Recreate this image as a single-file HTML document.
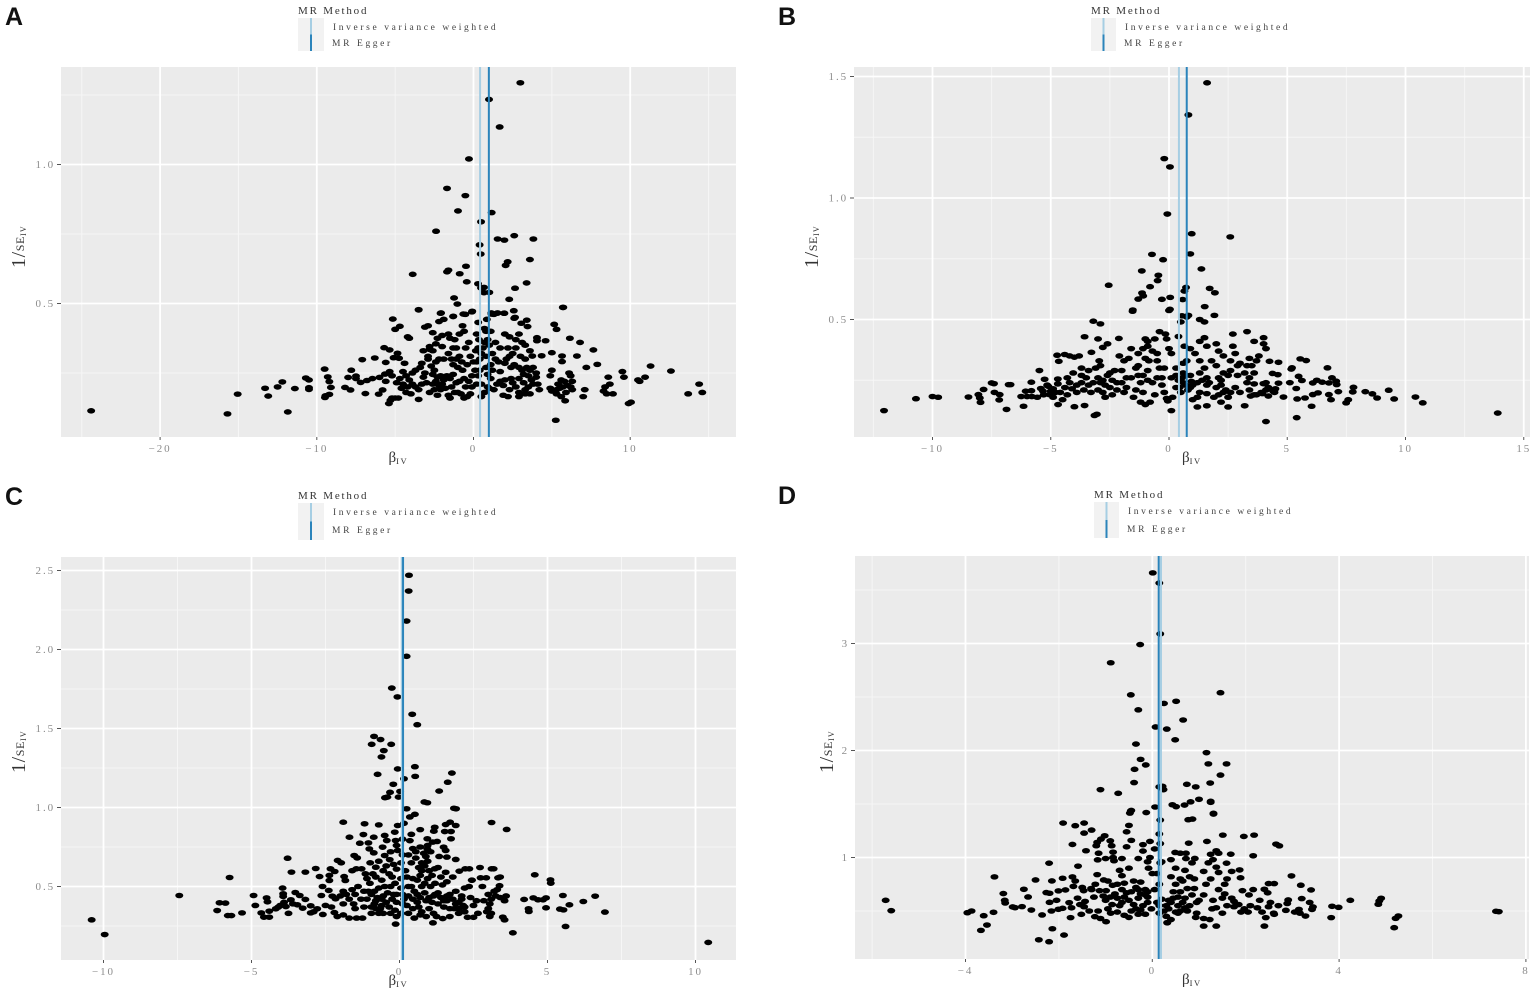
<!DOCTYPE html>
<html lang="en">
<head>
<meta charset="utf-8">
<title>MR funnel plots</title>
<style>
html,body{margin:0;padding:0;background:#fff;}
#figure{display:block;width:1535px;height:994px;}
text{font-family:"Liberation Serif","Noto Serif CJK SC",serif;}
.panel-letter{font-family:"Liberation Sans",sans-serif;font-weight:700;font-size:25px;fill:#111;}
.tick-label{font-size:11px;letter-spacing:1.9px;fill:#8c8c8c;}
.legend-title{font-size:11px;letter-spacing:1.8px;fill:#333;}
.legend-label{font-size:9.5px;letter-spacing:2.62px;fill:#444;}
.axis-title{fill:#333;}
</style>
</head>
<body>
<svg id="figure" xmlns="http://www.w3.org/2000/svg" width="1535" height="994" viewBox="0 0 1535 994"></svg>
<script>
// Estimated [beta_IV, 1/SE_IV] for each SNP
const pointsA = [
[2.99,1.294],[.99,1.234],[1.67,1.135],[-.29,1.02],[-1.69,.914],[-.52,.888],[-.99,.833],[1.16,.827],[.48,.794],[-2.39,.76],[2.6,.744],[1.54,.732],[1.97,.728],[3.82,.732],[.39,.711],[.46,.678],[3.6,.658],[2.18,.65],[2.05,.637],[-.48,.634],[-1.6,.62],[-1.69,.614],[-.88,.607],[-3.88,.605],[-.43,.578],[3.39,.574],[.29,.571],[.67,.558],[.48,.556],[2.65,.555],[.67,.539],[1.01,.54],[-1.24,.52],[2.28,.515],[-1.03,.498],[5.73,.486],[-3.5,.478],[2.57,.474],[-.08,.472],[-2.07,.466],[1.14,.466],[1.54,.466],[1.97,.465],[-.52,.461],[1.3,.461],[-1.29,.454],[2.65,.45],
[-24.4,.114],[-15.7,.103],[-15.05,.174],[-11.85,.11],[-13.3,.195],[-13.1,.167],[-12.5,.2],[-12.2,.218],[-11.4,.194],[-10.7,.232],[-10.5,.225],[-10.5,.197],[-10.5,.191],[-9.5,.264],[-9.3,.236],[-9.2,.219],[-9.1,.198],[-9.2,.173],[-9.45,.168],[-9.48,.162],[-8.2,.198],[-8,.234],[-7.8,.26],[-7.85,.189],[-7.5,.239],[-7.5,.23],[-7.2,.216],[-6.9,.176],[-6.8,.223],[-6.45,.23],[-7.1,.298],[-6.3,.304],[-6.05,.174],[-6,.234],[-5.8,.189],[-5.7,.341],[-5.35,.333],[-5.6,.288],[-5.15,.444],[-5.1,.305],[-4.7,.418],[-5,.407],[-4.75,.303],[-4.85,.321],[-4.4,.285],[-5.65,.246],[-5.35,.255],[-5.6,.22],[-5.2,.24],[-4.9,.215],[-5.3,.152],[-5.2,.16],[-5,.16],[-4.8,.16],[-5.4,.14],[-3.5,.155],[-4.5,.255],[-4.3,.24],[-4.1,.225],[-3.9,.25],[-3.7,.26],[-3.4,.27],[-3.2,.235],[-3,.215],[-4.6,.195],[-4.3,.18],[-4,.175],[-3.7,.2],[-3.5,.19],[-4.2,.38],[-4.1,.375],[-3.1,.415],[-2.8,.345],[-2.8,.335],[-2.9,.31],[-2.9,.3],[-3.3,.285],[-2.7,.275],[-2.4,.29],[-2.6,.245],[-2.4,.22],[-2.3,.235],[-2.2,.205],[-2.5,.19],[-2.8,.18],[-2.3,.17],[-2.1,.19],[-1.9,.225],[-1.7,.24],[-1.5,.23],[-1.3,.245],[-2,.21],[-1.6,.17],[-1.5,.16],[-1.2,.18],[-1,.18],[-.8,.175],[-.6,.16],[-.4,.165],[-.2,.175],[-3.5,.477],[-2.1,.465],[-2.2,.435],[-1.9,.443],[-1.3,.453],[-.1,.47],[-.65,.462],[-2.9,.42],[-2.6,.395],[-2.3,.375],[-2,.385],[-1.6,.39],[-1.5,.375],[-1.2,.37],[-.9,.39],[-.7,.42],[-.6,.4],[-2.4,.355],[-2,.345],[-1.6,.32],[-1.4,.3],[-1.1,.3],[-.9,.31],[-.75,.29],[-1.3,.28],[-1,.27],[-.7,.26],[-.3,.36],[.3,.432],[.85,.443],[1.15,.462],[1.5,.465],[1.95,.465],[2.6,.447],[3.05,.429],[3.4,.44],[3.45,.417],[5.7,.486],[5.15,.425],[5.3,.407],[6.15,.375],[6.8,.36],[7.65,.333],[6.6,.311],[7.9,.281],[7.2,.27],[5,.323],[5.65,.311],[5.65,.291],[4.35,.312],[3.75,.311],[4.6,.366],[4.05,.377],[4.05,.366],[.2,.39],[.35,.37],[.7,.41],[.8,.4],[1.1,.4],[.9,.37],[1,.35],[.3,.34],[.5,.32],[1.4,.36],[1.7,.34],[2,.39],[2.3,.38],[2.7,.37],[2.9,.39],[3.1,.36],[3.3,.35],[3.6,.33],[2.5,.32],[2.3,.31],[2.1,.3],[2,.285],[1.4,.3],[1.1,.28],[.8,.27],[.4,.26],[.3,.24],[.9,.245],[1.2,.26],[1.7,.255],[2.4,.27],[2.6,.28],[2.9,.27],[3.1,.26],[3.2,.245],[3.5,.24],[3.7,.225],[4,.25],[4,.235],[3.8,.21],[3.5,.2],[3.2,.215],[2.9,.23],[2.4,.23],[2,.225],[1.7,.22],[1.5,.21],[1.9,.205],[2.3,.19],[2.7,.2],[2.9,.18],[3.3,.175],[1.3,.19],[1,.195],[.9,.2],[.7,.18],[.5,.165],[1.9,.17],[2.2,.165],[2.9,.165],[3.6,.175],[4.9,.195],[5,.185],[5.3,.19],[5.4,.21],[5.6,.225],[5.8,.22],[6,.205],[5.7,.2],[5.9,.18],[6.2,.2],[6.3,.22],[6.1,.25],[6.2,.24],[5,.26],[4.9,.24],[5.6,.165],[5.85,.15],[5.25,.08],[7.1,.19],[7,.165],[8.4,.2],[8.7,.21],[8.5,.175],[8.9,.175],[8.3,.185],[9.5,.255],[9.6,.235],[9.9,.14],[10.05,.145],[10.5,.225],[10.6,.22],[10.95,.235],[11.3,.275],[12.6,.257],[13.7,.175],[14.4,.21],[14.6,.18],[8.6,.235],
[-4.7,.23],[-4.5,.21],[-4.2,.2],[-3.9,.21],[-3.3,.21],[-3.1,.25],[-2.6,.21],[-2.5,.26],[-2.1,.24],[-1.8,.195],[-1.4,.2],[-1.1,.215],[-.9,.22],[-.6,.23],[-.5,.2],[-.3,.22],[-.1,.24],[.1,.26],[.2,.29],[.4,.3],[.6,.34],[.7,.36],[.15,.33],[.2,.21],[.5,.21],[.8,.31],[1.2,.32],[1.6,.29],[2.2,.34],[2.7,.34],[3,.31],[3.3,.3],[3.4,.27],[3.6,.26],[3.8,.27],[4.1,.21],[3.3,.19],[2.5,.215],[1.1,.23],[-1.1,.34],[-1.3,.34],[-1.9,.3],[-2.2,.3],[-.5,.34],[-.2,.31],[-.4,.28],[0,.29],[-.1,.2],[4.2,.19],[6.3,.19],[5.5,.195],[5.3,.175],[-3.2,.33],[-2.6,.33]
];
const pointsB = [
[1.61,1.474],[.82,1.342],[-.2,1.162],[.04,1.128],[-.07,.934],[.96,.853],[2.59,.84],[-.72,.768],[.9,.77],[-.25,.746],[1.37,.708],[-1.15,.7],[-.45,.682],[-.48,.66],[-2.55,.641],[-.8,.635],[.72,.632],[.65,.617],[1.72,.628],[1.94,.61],[-1.14,.609],[-1.09,.597],[-1.3,.584],[-.3,.583],[.05,.591],[.58,.582],[1.51,.553],[-1.53,.539],[.04,.542],[1.92,.517],[.82,.517],[.55,.515],
[-1.54,.534],[0,.537],[.5,.49],[.75,.51],[1.3,.5],[1.5,.49],[-12.05,.125],[-10.7,.174],[-10,.183],[-9.76,.18],[-8.48,.181],[-8.06,.191],[-8,.177],[-7.97,.159],[-7.84,.212],[-7.5,.239],[-7.4,.236],[-7.38,.2],[-7.16,.191],[-7.18,.169],[-6.87,.13],[-6.78,.232],[-6.7,.232],[-6.25,.183],[-6.15,.143],[-6.06,.205],[-6,.183],[-5.82,.242],[-5.8,.183],[-5.82,.207],[-5.57,.18],[-5.48,.29],[-5.26,.254],[-5.42,.216],[-5.33,.205],[-5.05,.191],[-4.69,.15],[-4.73,.353],[-4.66,.328],[-4.41,.356],[-4.2,.35],[-4,.345],[-3.8,.35],[-4,.141],[-3.57,.146],[-3.57,.429],[-3.2,.493],[-2.9,.482],[-3,.42],[-3.28,.365],[-2.6,.4],[-2.8,.385],[-2.12,.422],[-3.15,.105],[-3.05,.11],[-5.1,.225],[-4.9,.215],[-4.7,.235],[-4.6,.2],[-4.4,.22],[-4.9,.18],[-4.5,.17],[-4.3,.19],[-4.1,.215],[-3.9,.23],[-4.3,.26],[-4.05,.28],[-3.7,.27],[-3.7,.24],[-3.4,.29],[-3.5,.26],[-3.4,.23],[-3.6,.21],[-3.3,.2],[-2.95,.33],[-2.9,.31],[-2.8,.25],[-3,.21],[-2.8,.2],[-2.6,.27],[-2.5,.28],[-2.3,.29],[-2.2,.24],[-2.2,.21],[-2.4,.19],[-2.7,.18],[-2,.29],[-1.9,.33],[-1.7,.34],[-1.9,.2],[-1.5,.18],[-1.6,.26],[-1.3,.27],[-1.2,.24],[-1.4,.21],[-1.1,.2],[-1.6,.38],[-1.3,.36],[-1.1,.38],[-1,.42],[-.9,.41],[-.9,.39],[-.6,.42],[-.4,.45],[-.15,.44],[-.1,.42],[-1,.34],[-.85,.33],[-.7,.37],[-.5,.33],[-.4,.3],[-.9,.29],[-1.2,.16],[-1,.15],[-.7,.24],[-.5,.26],[-.3,.23],[-.2,.2],[-.1,.175],[.15,.18],[.1,.125],[0,.38],[.1,.36],[.3,.3],[.4,.25],[.45,.22],[.6,.32],[.75,.33],[.4,.43],[.65,.39],[.9,.38],[1.1,.36],[1.3,.33],[1.3,.41],[1.5,.425],[1.6,.39],[2,.4],[2.1,.37],[2.7,.44],[2.7,.39],[2.8,.36],[3.3,.45],[3.6,.41],[4,.425],[4,.4],[4.1,.38],[3.8,.35],[3.7,.33],[3.4,.34],[3,.32],[2.6,.33],[2.3,.35],[1.8,.33],[2,.31],[2.3,.28],[2.6,.29],[2.9,.27],[3.2,.28],[3.4,.26],[3.6,.28],[3.3,.24],[3.6,.235],[4.1,.24],[2.1,.26],[2.2,.25],[2.5,.27],[1.6,.26],[1.3,.28],[.9,.27],[1.2,.24],[1.6,.23],[2,.22],[2.2,.23],[2.4,.21],[2.5,.18],[2.3,.2],[2.1,.19],[1.6,.195],[1.3,.2],[1.2,.18],[1,.17],[.8,.21],[.6,.24],[.9,.22],[2.2,.16],[2.5,.14],[3.2,.145],[1.2,.14],[1.6,.145],[3,.2],[3.4,.21],[3.6,.19],[3.9,.2],[4.2,.185],[4.1,.21],[4.4,.205],[4.5,.215],[13.9,.115],[10.73,.157],[10.42,.181],[9.52,.173],[9.29,.209],[8.8,.177],[8.6,.194],[8.3,.203],[7.8,.221],[7.77,.202],[7.58,.17],[7.49,.157],[7.16,.203],[7.09,.232],[7.07,.246],[6.89,.26],[6.7,.301],[6.76,.191],[6.85,.17],[6.76,.239],[6.48,.242],[6.25,.25],[6.08,.239],[6.3,.198],[6.03,.143],[6.08,.191],[5.75,.177],[5.42,.173],[5.4,.096],[4.1,.08],[5.8,.331],[5.55,.338],[5.2,.301],[5.17,.296],[5.48,.266],[5.62,.249],[5.38,.216],[5.11,.24],[4.84,.181],[4.63,.324],[4.25,.328],[4.38,.278],[4.6,.273],[4.63,.238],[3.99,.236],[4.2,.22],[4.46,.2],[3.95,.195],[3.7,.19],[3.45,.185],[-.05,.165],[.55,.26],[.7,.27],[.95,.245],[-.3,.26],[-1.8,.22],[-2.5,.22],[-2.9,.24],[-3.7,.3],[-3.1,.3],[-5.3,.19],[-5,.205],[-4.7,.255],[-5.15,.23],[-.6,.19],[-.8,.16],
[-4.8,.2],[-4.2,.24],[-3.9,.2],[-3.2,.24],[-3,.26],[-2.7,.23],[-2.4,.25],[-2,.24],[-1.8,.26],[-1.4,.3],[-1.1,.27],[-.9,.25],[-.2,.3],[.1,.26],[.3,.22],[.5,.2],[.3,.27],[.7,.23],[1,.23],[1.4,.25],[1.7,.24],[1.9,.18],[2.6,.2],[2.8,.22],[2.9,.31],[3.3,.31],[3.5,.31],[.6,.28],[1.5,.3],[-.5,.36],[-1.3,.31],[-2.1,.35]
];
const pointsC = [
[.32,2.47],[.31,2.37],[.24,2.18],[.24,1.957],[-.26,1.756],[-.07,1.7],[.43,1.59],[.6,1.524],[-.86,1.45],[-.64,1.43],[-.94,1.4],[-.28,1.4],[-.53,1.36],[-.61,1.32],[.52,1.258],[-.06,1.244],[-.74,1.21],[1.77,1.218],[.53,1.197],[.15,1.182],[1.63,1.16],[-.21,1.147],[1.34,1.104],[-.32,1.096],[.02,1.102],[-.41,1.066],[-.49,1.062],[-.03,1.066],[.84,1.035],[.94,1.03],[.24,.992],[1.84,.995],[.52,.957],
[-10.4,.289],[-9.96,.196],[-7.44,.443],[-5.74,.557],[-6.08,.397],[-5.88,.395],[-6.16,.348],[-5.8,.316],[-5.68,.316],[-5.32,.333],[-4.93,.443],[-4.87,.38],[-4.49,.428],[-4.46,.403],[-4.67,.333],[-4.58,.306],[-4.4,.306],[-4.4,.344],[-4.18,.359],[-4.1,.369],[-3.95,.49],[-3.93,.454],[-3.93,.437],[-4.03,.38],[-3.84,.373],[-3.67,.416],[-3.52,.462],[-3.37,.443],[-3.18,.418],[-3.45,.384],[-3.27,.363],[-3,.378],[-3,.333],[-2.78,.359],[-2.59,.323],[-2.64,.443],[-2.6,.5],[-2.7,.563],[-2.83,.614],[-3.18,.591],[-3.65,.591],[-3.78,.679],[-2.33,.612],[-2.19,.595],[-2.37,.57],[-2.37,.538],[-2.39,.475],[-2.27,.439],[-2.16,.422],[-2.09,.665],[-1.97,.65],[-1.87,.563],[-1.83,.538],[-1.9,.907],[-1.18,.897],[-1.69,.812],[-1.22,.829],[-1.34,.774],[-1.05,.776],[-.87,.812],[-1.02,.738],[-.87,.713],[-1.53,.696],[-1.43,.681],[-1.46,.612],[-1.28,.612],[-.99,.65],[-.8,.622],[-.5,.823],[-.43,.791],[-.06,.886],[-.16,.844],[-.13,.791],[-.57,.749],[-.06,.728],[-.5,.696],[-.33,.67],[-.2,.64],[-.55,.6],[-.35,.58],[-.1,.61],[-.25,.56],[-.8,.56],[-1.1,.55],[-1.4,.5],[-1.2,.47],[-1,.52],[-.7,.49],[-.5,.5],[-.3,.5],[-.15,.52],[-.4,.46],[-1.9,.47],[-2,.44],[-1.7,.42],[-1.5,.45],[-1.3,.42],[-2.3,.37],[-2.2,.335],[-2.1,.31],[-1.9,.32],[-1.45,.3],[-1.25,.3],[-1.2,.37],[-.95,.37],[-.8,.41],[-.8,.36],[-.7,.33],[-.6,.38],[-.55,.33],[-.3,.33],[-.15,.35],[-.1,.31],[.05,.33],[.15,.42],[.1,.45],[.1,.39],[.3,.44],[.4,.5],[.5,.47],[.6,.54],[.7,.57],[.75,.5],[.85,.46],[1,.43],[.9,.41],[.65,.37],[.45,.36],[.3,.33],[.7,.32],[.75,.34],[1,.36],[1.1,.4],[1.3,.39],[1.4,.43],[1.6,.44],[1.8,.42],[1.9,.39],[2.1,.42],[2,.36],[1.7,.36],[1.5,.37],[1.3,.46],[1.45,.51],[1.6,.53],[1.8,.56],[1.9,.47],[2.1,.44],[2.2,.49],[2.35,.5],[2.45,.54],[2.4,.43],[2.5,.38],[2.65,.33],[2.5,.305],[2.3,.305],[3.05,.31],[3.1,.33],[3,.36],[3.05,.39],[3,.45],[3.2,.47],[3.4,.43],[3.55,.41],[3.6,.44],[3.3,.48],[10.43,.146],[6.94,.338],[6.61,.439],[6.21,.405],[5.74,.384],[5.52,.443],[5.61,.247],[5.54,.352],[5.42,.357],[5.1,.542],[5.11,.521],[4.57,.574],[4.95,.428],[4.85,.416],[4.68,.416],[4.52,.428],[4.21,.418],[4.36,.359],[4.37,.342],[4.95,.365],[3.83,.207],[3.55,.289],[3.49,.306],[3.62,.861],[3.11,.905],[1.91,.992],[1.71,.907],[1.56,.892],[1.9,.886],[1.19,.875],[1.16,.85],[1.53,.848],[1.74,.848],[1.74,.802],[.94,.802],[1.27,.785],[1.12,.781],[1.49,.749],[1.56,.728],[.94,.738],[.82,.71],[.89,.69],[1.34,.69],[1.6,.686],[1.9,.671],[1.13,.27],[1.46,.297],[-.13,.262],[3.33,.555],[3.4,.56],[3.11,.612],[3.18,.612],[2.72,.62],[2.22,.612],[2.36,.612],[2.02,.597],[1.56,.59],[1.19,.612],[2.74,.555],[2.93,.555],[2.44,.54],[2.8,.5],[3.38,.505],[.7,.75],[.55,.72],[.35,.79],[.7,.86],[.4,.83],[.15,.9],[.35,.94],[.55,.68],[.4,.65],[.65,.62],[.85,.63],[1,.6],[1.1,.57],[.95,.66],[1.4,.56],[1.2,.52],[.2,.6],[.25,.56],[.1,.7],[-.1,.76],[-.3,.72],[-.7,.89],[.45,.74],[-1.5,.36],[-1.7,.3],[-1.1,.42],[-1.6,.6],[-2.9,.34],[-2.5,.38],[-3.6,.39],[-3.9,.4],[-3.75,.33],[-.95,.45],[-1.15,.58],[.6,.4],[.5,.3],[.9,.31],[1.15,.33],[1.25,.31],[1.7,.31],[2,.33],[2.2,.37],[-.45,.4],[-.55,.44],[-.75,.43],[-.35,.37],[.05,.49],[.05,.55],[.05,.65],[.1,.8],
[-1.9,.39],[-1.8,.45],[-1.6,.48],[-1.55,.39],[-1.05,.47],[-.85,.47],[-.6,.42],[-.95,.33],[-.85,.39],[-.65,.36],[-.2,.45],[-.25,.42],[-.1,.4],[.25,.38],[.45,.42],[.6,.45],[.7,.43],[.85,.52],[.95,.55],[1.05,.5],[1.2,.45],[1.15,.44],[1.5,.41],[1.6,.41],[1.7,.45],[1.85,.36],[2,.4],[2.15,.38],[2.2,.34],[2.6,.41],[2.85,.41],[2.95,.34],[3.1,.42],[3.25,.44],[.3,.7],[.45,.55],[.3,.5],[.75,.65],[.75,.6],[-.9,.58],[-.7,.66],[-.45,.63],[-.6,.54],[-.1,.45],[.95,.76],[1.05,.72],[1.3,.62]
];
const pointsD = [
[.01,3.66],[.15,3.565],[.17,3.09],[-.26,2.99],[-.89,2.82],[-.46,2.52],[1.46,2.54],[.25,2.44],[.51,2.46],[-.3,2.38],[.66,2.285],[.07,2.22],[.31,2.2],[.49,2.1],[-.35,2.06],[1.16,1.98],[-.25,1.917],[-.14,1.865],[1.2,1.875],[1.59,1.875],[-.38,1.824],[1.46,1.77],[-.39,1.7],[1.24,1.696],[.74,1.684],[.93,1.66],[.22,1.665],[.15,1.66],[.24,1.634],[-1.11,1.634],[-.73,1.6],[1,1.544],[1.25,1.525],[.82,1.52],[.69,1.49],[.43,1.493],[.51,1.475],[.06,1.472],[-.46,1.435],[-.48,1.415],[-.13,1.42],[1.31,1.413],
[-5.71,.6],[-5.59,.503],[-3.96,.484],[-3.87,.5],[-3.61,.456],[-3.54,.369],[-3.67,.319],[-3.38,.819],[-3.4,.488],[-3.19,.663],[-3.16,.6],[-3.15,.575],[-2.99,.538],[-2.94,.531],[-2.79,.541],[-2.75,.703],[-2.66,.631],[-2.59,.509],[-2.36,.463],[-2.43,.231],[-2.21,.213],[-1.89,.275],[-2.14,.334],[-2.21,.947],[-2.15,.781],[-2.27,.672],[-2.2,.666],[-2.2,.581],[-2.16,.5],[-2.01,.688],[-2.01,.516],[-1.92,.525],[-1.91,1.322],[-1.65,1.297],[-1.46,1.322],[-1.3,1.256],[-1.46,1.228],[-1.71,1.122],[-1.59,.919],[-1.92,.806],[-1.71,.819],[-1.65,.78],[-1.69,.73],[-1.86,.697],[-1.78,.578],[-1.73,.53],[-1.75,.438],[-1.52,.469],[-1.6,.62],[-1.44,.59],[-1.46,.54],[-1.42,1.063],[-1.18,1.141],[-1.2,1.11],[-1.1,1.172],[-1.02,1.203],[-.9,1.156],[-.87,1.11],[-.84,1.05],[-.84,1],[-.82,.97],[-1.17,.978],[-1.18,.84],[-1.04,.79],[-1.22,.75],[-1.47,.69],[-1.31,.71],[-1.13,.69],[-.99,.69],[-.9,.63],[-1.16,.5],[-1.23,.447],[-1.11,.43],[-.99,.4],[-.89,.48],[-.86,.56],[-.7,.88],[-.65,.83],[-.6,.76],[-.75,.75],[-.5,.9],[-.4,.78],[-.35,.72],[-.45,.68],[-.6,.63],[-.5,.6],[-.7,.55],[-.45,.5],[-.5,.44],[-.3,.47],[-.15,.47],[-.2,.55],[-.3,.62],[-.15,.7],[-.25,.77],[-.45,1.44],[-.5,1.3],[-.55,1.24],[-.45,1.16],[-.2,1.12],[-.2,1.06],[-.3,.99],[-.1,.96],[-.08,.9],[-.1,.68],[-.15,.65],[-.1,.58],[-.02,.52],[.15,.48],[.15,.55],[.2,.61],[.25,.5],[.3,.45],[.32,.39],[.4,.42],[.5,.49],[.55,.55],[.65,.58],[.45,.68],[.55,.63],[.7,.62],[.75,.71],[.6,.8],[.7,.88],[.5,.9],[.85,.95],[.72,.99],[.4,.98],[.2,.96],[.49,1.047],[.6,1.04],[.72,1.04],[.86,1.359],[.77,1.353],[.78,1.134],[1.31,1.406],[1.25,1.516],[1.51,1.209],[1.17,1.15],[1.37,1.063],[1.42,1.04],[1.25,1.03],[1.68,1.031],[.91,.991],[1.59,.947],[1.37,.91],[1.42,.86],[1.1,.87],[1.7,.87],[1.87,.884],[1.89,.81],[1.6,.8],[1.55,.75],[1.42,.7],[1.1,.65],[1.7,.62],[1.93,.69],[2.16,.7],[2.07,.65],[1.75,.59],[1.75,.54],[1.97,.52],[2.25,.53],[2.49,.54],[1.37,.53],[1.28,.52],[.95,.48],[.93,.44],[1.1,.43],[1.23,.42],[1.1,.359],[1.37,.359],[.32,.391],[.6,.5],[.8,.55],[1.0,.6],[.35,.6],[.6,.68],[.9,.71],[.3,.55],[7.36,.497],[7.42,.494],[5.18,.344],[5.21,.431],[5.27,.453],[4.9,.619],[4.86,.594],[4.84,.563],[4.24,.6],[3.99,.534],[3.85,.544],[3.83,.438],[3.4,.697],[3.18,.741],[2.98,.828],[3.2,.616],[3.44,.538],[3.37,.58],[3.42,.515],[3.28,.453],[3.14,.515],[3.16,.48],[2.91,.603],[2.89,.57],[2.86,.506],[2.61,.469],[2.49,.756],[2.61,.756],[2.4,.703],[2.47,.67],[2.4,.359],[2.43,.438],[2.72,1.109],[2.65,1.125],[2.18,1.209],[1.96,1.197],[2.16,1.016],[2.6,.48],[2.35,.49],[2.1,.55],[2.3,.6],[1.6,.55],[1.5,.48],[1.9,.49],[2.7,.55],[2.53,.58],[3.05,.49],[-2.5,.79],[-2.05,.6],[-1.3,.7],[-.6,.46],[-.95,.52],[-.75,.49],[-.25,.51],[.1,.58],[.05,.7],[-1.35,.5],[-1.55,.56],[-1,.6],[-1.5,.72],[.0,.85],[.1,.85],[.17,1.13],[.17,1.35],[.15,1.22],[.17,.95],[.15,.75],[-.05,1.0],[.05,1.08],
[-1.25,.63],[-1.05,.64],[-.8,.66],[-.65,.7],[-.55,.67],[-.3,.7],[-.25,.66],[-.85,.74],[-.95,.78],[-.75,.62],[-.65,.58],[-.4,.56],[-.35,.52],[-.1,.63],[.35,.52],[.4,.58],[.45,.62],[.55,.48],[.7,.53],[.75,.5],[.85,.65],[.95,.58],[1.15,.75],[1.25,.8],[1.3,.6],[1.5,.62],[1.55,.66],[1.85,.56],[2.05,.49],[1.2,.95],[1.3,.98],[-1.15,1.04],[-1,.99],[-.65,.99],[-.55,1.1],[-.05,1.15],[.65,.78],[.8,.82],[.9,.8],[.4,.82],[.5,.75]
];

const ticksXA = [-20,-10,0,10];
const ticksYA = [0.5,1.0];
const ticksXB = [-10,-5,0,5,10,15];
const ticksYB = [0.5,1.0,1.5];
const ticksXC = [-10,-5,0,5,10];
const ticksYC = [0.5,1.0,1.5,2.0,2.5];
const ticksXD = [-4,0,4,8];
const ticksYD = [1,2,3];
const minorStepA = 5, minorStepB = 2.5, minorStepC = 2.5, minorStepD = 2;
const minorStepYA = .25, minorStepYB = .25, minorStepYC = .25, minorStepYD = .5;
const ivwA = .42, eggerA = .98;
const ivwB = .42, eggerB = .75;
const ivwC = .08, eggerC = .12;
const ivwD = .186, eggerD = .137;

const NS = 'http://www.w3.org/2000/svg';
const svg = document.getElementById('figure');
function mk(tag, attrs, parent){
  const el = document.createElementNS(NS, tag);
  for (const k in attrs) el.setAttribute(k, attrs[k]);
  (parent || svg).appendChild(el);
  return el;
}
function drawPanel(p){
  const g = mk('g', {});
  
  
  const sx = v => p.x0 + v * p.sx;
  const sy = v => p.y0 - v * p.sy;

  const letter = mk('text', {x:p.letterX, y:p.letterY, class:'panel-letter'}, g);
  letter.textContent = p.id;
  
  

  // legend
  const lg = mk('g', {}, g);
  
  
  const lt = mk('text', {x:p.legX, y:p.legY - 1, class:'legend-title'}, lg);
  lt.textContent = 'MR Method';
  
  
  const keyH = p.legH;
  const kb = mk('rect', {x:p.legX, y:p.legY + 3, width:p.legW, height:keyH, fill:'#f2f2f2'}, lg);
  
  
  const kx = p.legX + p.legW / 2;
  const k1 = mk('line', {x1:kx, x2:kx, y1:p.legY + 3, y2:p.legY + 3 + keyH / 2, stroke:'#a6cee3', 'stroke-width':2}, lg);
  
  
  const k2 = mk('line', {x1:kx, x2:kx, y1:p.legY + 3 + keyH / 2, y2:p.legY + 3 + keyH, stroke:'#2b84bb', 'stroke-width':2}, lg);
  
  
  const l1 = mk('text', {x:p.legX + p.legW + 9, y:p.legY + 15, class:'legend-label'}, lg);
  l1.textContent = 'Inverse variance weighted';
  
  
  const l2 = mk('text', {x:p.legX + p.legW + 8, y:p.legY + 15 + p.legGap, class:'legend-label'}, lg);
  l2.textContent = 'MR Egger';
  
  

  // plot background
  const bg = mk('rect', {x:p.left, y:p.top, width:p.right - p.left, height:p.bottom - p.top, fill:'#ebebeb'}, g);
  
  

  // minor grid: halfway positions between the major ticks
  const majorX = p.ticksX, majorY = p.ticksY;
  const firstX = majorX[0] - p.minorX, firstY = majorY[0] - p.minorY;
  for (let i = 0; i <= majorX.length; i++){
    const v = firstX + i * 2 * p.minorX;
    if (sx(v) <= p.left || sx(v) >= p.right) continue;
    const m = mk('line', {x1:sx(v), x2:sx(v), y1:p.top, y2:p.bottom, stroke:'#f6f6f6', 'stroke-width':1}, g);
    
    
  }
  for (let i = 0; i <= majorY.length; i++){
    const v = firstY + i * 2 * p.minorY;
    if (sy(v) <= p.top || sy(v) >= p.bottom) continue;
    const m = mk('line', {x1:p.left, x2:p.right, y1:sy(v), y2:sy(v), stroke:'#f6f6f6', 'stroke-width':1}, g);
    
    
  }
  // major grid, ticks and labels
  majorX.forEach(v => {
    const m = mk('line', {x1:sx(v), x2:sx(v), y1:p.top, y2:p.bottom, stroke:'#ffffff', 'stroke-width':1.8}, g);
    
    
    const t = mk('line', {x1:sx(v), x2:sx(v), y1:p.bottom, y2:p.bottom + 3, stroke:'#555', 'stroke-width':1}, g);
    
    
    const tx = mk('text', {x:sx(v), y:p.bottom + 15, 'text-anchor':'middle', class:'tick-label'}, g);
    tx.textContent = String(v).replace('-', '\u2212');
    
    
  });
  majorY.forEach(v => {
    const m = mk('line', {x1:p.left, x2:p.right, y1:sy(v), y2:sy(v), stroke:'#ffffff', 'stroke-width':1.8}, g);
    
    
    const t = mk('line', {x1:p.left - 4, x2:p.left, y1:sy(v), y2:sy(v), stroke:'#555', 'stroke-width':1}, g);
    
    
    const tx = mk('text', {x:p.left - 6, y:sy(v) + 3.5, 'text-anchor':'end', class:'tick-label'}, g);
    tx.textContent = p.digits ? v.toFixed(p.digits) : String(v);
    
    
  });
  // points
  p.points.forEach(d => {
    const c = mk('ellipse', {cx:sx(d[0]), cy:sy(d[1]), rx:4, ry:2.8, fill:'#000'}, g);
    
    
  });
  // MR estimate lines
  const ivw = mk('line', {x1:sx(p.ivw), x2:sx(p.ivw), y1:p.top, y2:p.bottom, stroke:'#a6cee3', 'stroke-width':2}, g);
  
  
  const egger = mk('line', {x1:sx(p.egger), x2:sx(p.egger), y1:p.top, y2:p.bottom, stroke:'#2b84bb', 'stroke-width':2}, g);
  
  

  // axis titles
  const xt = mk('text', {x:(p.left + p.right) / 2 - 10, y:p.bottom + 25, class:'axis-title', 'font-size':15}, g);
  
  
  xt.appendChild(document.createTextNode('\u03b2'));
  const xs = mk('tspan', {dy:2, 'font-size':8.5, 'letter-spacing':1.5}, xt);
  xs.textContent = 'IV';
  const yt = mk('text', {transform:'translate(' + p.yTitleX + ' ' + p.yTitleY + ') rotate(-90)', class:'axis-title', 'font-size':14, 'letter-spacing':0.6}, g);
  
  
  const yb = mk('tspan', {'font-size':20, dy:1}, yt);
  yb.textContent = '1/';
  const ym = mk('tspan', {'font-size':12, dy:-1}, yt);
  ym.textContent = 'SE';
  const ys = mk('tspan', {'font-size':8, dy:2, 'letter-spacing':1.2}, yt);
  ys.textContent = 'IV';
}

drawPanel({id:'A', points:pointsA, ticksX:ticksXA, ticksY:ticksYA, minorX:minorStepA, minorY:minorStepYA, ivw:ivwA, egger:eggerA,
  left:61, right:736, top:67, bottom:437, x0:473.5, sx:15.67, y0:442.5, sy:278, digits:1,
  letterX:5, letterY:25, legX:298, legY:15, legW:26, legH:33, legGap:16, yTitleX:24, yTitleY:268});
drawPanel({id:'B', points:pointsB, ticksX:ticksXB, ticksY:ticksYB, minorX:minorStepB, minorY:minorStepYB, ivw:ivwB, egger:eggerB,
  left:854, right:1530, top:67, bottom:437, x0:1169, sx:23.65, y0:441, sy:243, digits:1,
  letterX:778, letterY:25, legX:1091, legY:15, legW:25, legH:33, legGap:16, yTitleX:817, yTitleY:268});
drawPanel({id:'C', points:pointsC, ticksX:ticksXC, ticksY:ticksYC, minorX:minorStepC, minorY:minorStepYC, ivw:ivwC, egger:eggerC,
  left:61, right:736, top:557, bottom:960, x0:399.5, sx:29.6, y0:965.5, sy:158, digits:1,
  letterX:5, letterY:505, legX:298, legY:500, legW:26, legH:37, legGap:18, yTitleX:24, yTitleY:773});
drawPanel({id:'D', points:pointsD, ticksX:ticksXD, ticksY:ticksYD, minorX:minorStepD, minorY:minorStepYD, ivw:ivwD, egger:eggerD,
  left:855, right:1529, top:556, bottom:959, x0:1152.3, sx:46.7, y0:964.5, sy:107, digits:0,
  letterX:778, letterY:504, legX:1094, legY:499, legW:25, legH:36, legGap:18, yTitleX:832, yTitleY:773});
</script>
</body>
</html>
